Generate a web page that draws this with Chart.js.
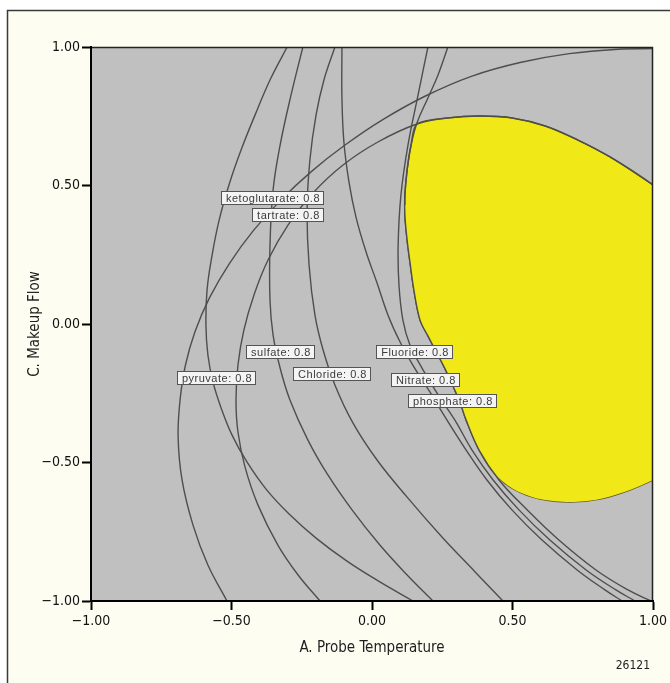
<!DOCTYPE html>
<html>
<head>
<meta charset="utf-8">
<script src="https://cdn.jsdelivr.net/npm/chart.js@4.4.1/dist/chart.umd.min.js"></script>
<style>
  html, body { margin: 0; padding: 0; background: #ffffff; }
  canvas { display: block; }
</style>
</head>
<body>
<canvas id="overlay" width="670" height="683"></canvas>
<script>
// Axis ticks (coded factor levels)
const xTicks = [-1, -0.5, 0, 0.5, 1];
const yTicks = [-1, -0.5, 0, 0.5, 1];

// 0.8 desirability contours, points as [A, C]
const ketoglutarate = [[-0.516,-1],[-0.584,-0.870],[-0.637,-0.726],[-0.676,-0.563],[-0.690,-0.408],[-0.683,-0.274],[-0.664,-0.149],[-0.630,-0.028],[-0.578,0.095],[-0.507,0.219],[-0.423,0.336],[-0.323,0.449],[-0.214,0.552],[-0.096,0.646],[0.037,0.737],[0.192,0.824],[0.356,0.895],[0.527,0.944],[0.702,0.976],[0.879,0.992],[1,0.994]];
const tartrate = [[-0.185,-1],[-0.263,-0.906],[-0.335,-0.798],[-0.406,-0.653],[-0.452,-0.516],[-0.477,-0.390],[-0.484,-0.274],[-0.477,-0.148],[-0.456,-0.022],[-0.420,0.105],[-0.370,0.231],[-0.299,0.357],[-0.210,0.473],[-0.103,0.574],[0.021,0.657],[0.160,0.722],[0.270,0.744],[0.384,0.751],[0.498,0.744],[0.616,0.715],[0.733,0.664],[0.847,0.603],[1,0.502]];
const pyruvate = [[-0.302,1],[-0.363,0.881],[-0.416,0.755],[-0.466,0.628],[-0.509,0.502],[-0.544,0.375],[-0.569,0.249],[-0.587,0.123],[-0.591,-0.004],[-0.584,-0.112],[-0.566,-0.209],[-0.537,-0.303],[-0.498,-0.401],[-0.445,-0.498],[-0.377,-0.596],[-0.295,-0.686],[-0.199,-0.773],[-0.089,-0.856],[0.028,-0.931],[0.146,-1]];
const sulfate = [[-0.246,1],[-0.288,0.827],[-0.327,0.646],[-0.352,0.484],[-0.363,0.285],[-0.363,0.087],[-0.352,-0.040],[-0.327,-0.159],[-0.292,-0.274],[-0.228,-0.419],[-0.157,-0.545],[-0.071,-0.671],[0.028,-0.798],[0.125,-0.906],[0.217,-1]];
const chloride = [[-0.132,1],[-0.171,0.881],[-0.199,0.755],[-0.221,0.592],[-0.231,0.412],[-0.224,0.213],[-0.203,0.032],[-0.174,-0.094],[-0.132,-0.220],[-0.068,-0.357],[0.018,-0.491],[0.125,-0.625],[0.249,-0.769],[0.367,-0.895],[0.466,-1]];
const nitrate = [[-0.107,1],[-0.107,0.819],[-0.100,0.657],[-0.082,0.513],[-0.057,0.386],[-0.021,0.260],[0.018,0.148],[0.057,0.032],[0.100,-0.065],[0.149,-0.155],[0.206,-0.245],[0.267,-0.347],[0.335,-0.455],[0.409,-0.563],[0.498,-0.671],[0.605,-0.780],[0.730,-0.888],[0.829,-0.960],[0.890,-1]];
const fluoride = [[0.199,1],[0.164,0.827],[0.128,0.646],[0.103,0.466],[0.093,0.285],[0.096,0.141],[0.110,0.014],[0.135,-0.076],[0.178,-0.159],[0.231,-0.249],[0.295,-0.347],[0.356,-0.455],[0.431,-0.563],[0.523,-0.671],[0.633,-0.780],[0.762,-0.888],[0.868,-0.960],[0.936,-1]];
const phosphate = [[0.270,1],[0.235,0.899],[0.199,0.816],[0.160,0.726],[0.139,0.646],[0.125,0.556],[0.117,0.466],[0.117,0.394],[0.125,0.303],[0.135,0.224],[0.149,0.123],[0.171,0.014],[0.199,-0.043],[0.231,-0.105],[0.260,-0.162],[0.288,-0.224],[0.313,-0.282],[0.335,-0.347],[0.381,-0.455],[0.452,-0.563],[0.552,-0.671],[0.665,-0.780],[0.797,-0.888],[0.911,-0.960],[0.993,-1]];

// Region where every criterion is met: upper and lower edges
const sweetTop = [[0.117,0.430],[0.117,0.466],[0.125,0.556],[0.139,0.646],[0.160,0.722],[0.270,0.744],[0.384,0.751],[0.498,0.744],[0.616,0.715],[0.733,0.664],[0.847,0.603],[1,0.502],[1.04,0.46]];
const sweetBottom = [[0.117,0.430],[0.117,0.394],[0.125,0.303],[0.135,0.224],[0.149,0.123],[0.171,0.014],[0.199,-0.043],[0.231,-0.105],[0.260,-0.162],[0.288,-0.224],[0.313,-0.282],[0.335,-0.347],[0.381,-0.455],[0.438,-0.542],[0.509,-0.599],[0.598,-0.632],[0.705,-0.643],[0.811,-0.632],[0.918,-0.599],[1,-0.563],[1.04,-0.54]];

// Contour flags: name, level and anchor position [A, C]
const flagNames = ['ketoglutarate', 'tartrate', 'sulfate', 'pyruvate', 'Chloride', 'Fluoride', 'Nitrate', 'phosphate'];
const flagLevels = [0.8, 0.8, 0.8, 0.8, 0.8, 0.8, 0.8, 0.8];
const flagA = [-0.356, -0.301, -0.329, -0.555, -0.144, 0.151, 0.189, 0.286];
const flagC = [0.455, 0.397, -0.101, -0.193, -0.177, -0.101, -0.199, -0.276];

const AXIS_FONT = '"Liberation Sans Narrow", "Arial Narrow", "DejaVu Sans Condensed", sans-serif';
const FLAG_FONT = '"Liberation Sans", Arial, sans-serif';

const toXY = pts => pts.map(([x, y]) => ({ x, y }));
const fmt = v => (v < 0 ? '\u2212' : '') + Math.abs(v).toFixed(2);

const contourStyle = {
  borderColor: '#4e4e4e',
  borderWidth: 1.4,
  pointRadius: 0,
  tension: 0.4,
  fill: false,
  order: 0
};

const curves = [ketoglutarate, tartrate, pyruvate, sulfate, chloride, nitrate, fluoride, phosphate];

const datasets = [
  { data: toXY(sweetTop), borderColor: '#5f5722', borderWidth: 1.5, backgroundColor: '#f1e817',
    pointRadius: 0, tension: 0.3, fill: '+1', order: 10 },
  { data: toXY(sweetBottom), borderColor: '#5f5722', borderWidth: 1.5, backgroundColor: '#f1e817',
    pointRadius: 0, tension: 0.3, fill: false, order: 10 }
].concat(curves.map(c => Object.assign({ data: toXY(c) }, contourStyle)));

const decor = {
  id: 'decor',
  beforeDraw(chart) {
    const { ctx, chartArea: a, width, height } = chart;
    ctx.save();
    ctx.fillStyle = '#ffffff';
    ctx.fillRect(0, 0, width, height);
    ctx.fillStyle = '#fdfdf2';
    ctx.fillRect(7, 10, width, height);
    ctx.strokeStyle = '#3a3a3a';
    ctx.lineWidth = 1.5;
    ctx.beginPath();
    ctx.moveTo(7.5, height + 2);
    ctx.lineTo(7.5, 10.5);
    ctx.lineTo(width + 2, 10.5);
    ctx.stroke();
    ctx.fillStyle = '#c0c0c0';
    ctx.fillRect(a.left, a.top, a.right - a.left, a.bottom - a.top);
    ctx.restore();
  },
  afterDatasetsDraw(chart) {
    const { ctx, chartArea: a, scales } = chart;
    ctx.save();
    // plot frame
    ctx.strokeStyle = '#222222';
    ctx.lineWidth = 1.5;
    ctx.beginPath();
    ctx.moveTo(a.left, a.top + 0.5);
    ctx.lineTo(a.right - 0.5, a.top + 0.5);
    ctx.lineTo(a.right - 0.5, a.bottom);
    ctx.stroke();
    ctx.strokeStyle = '#000000';
    ctx.lineWidth = 2;
    ctx.beginPath();
    ctx.moveTo(a.left, a.top);
    ctx.lineTo(a.left, a.bottom);
    ctx.lineTo(a.right, a.bottom);
    ctx.stroke();

    // contour flags
    ctx.font = '11px ' + FLAG_FONT;
    if ('letterSpacing' in ctx) ctx.letterSpacing = '0.5px';
    ctx.textAlign = 'center';
    ctx.textBaseline = 'middle';
    flagNames.forEach((name, i) => {
      const text = name + ': ' + flagLevels[i];
      const w = Math.round(ctx.measureText(text).width + 8);
      const h = 13;
      const px = scales.x.getPixelForValue(flagA[i]);
      const py = scales.y.getPixelForValue(flagC[i]);
      const x0 = Math.round(px - w / 2) + 0.5;
      const y0 = Math.round(py - h / 2) + 0.5;
      ctx.fillStyle = '#f4f4f4';
      ctx.fillRect(x0, y0, w, h);
      ctx.strokeStyle = '#545454';
      ctx.lineWidth = 1;
      ctx.strokeRect(x0, y0, w, h);
      ctx.fillStyle = '#3c3a3e';
      ctx.fillText(text, x0 + w / 2 + 0.5, y0 + h / 2 + 0.5);
    });
    ctx.restore();
  },
  afterDraw(chart) {
    const { ctx } = chart;
    ctx.save();
    ctx.font = '12px ' + AXIS_FONT;
    ctx.fillStyle = '#222222';
    ctx.textAlign = 'right';
    ctx.textBaseline = 'middle';
    ctx.fillText('26121', 650, 666);
    ctx.restore();
  }
};

new Chart(document.getElementById('overlay'), {
  type: 'line',
  data: { datasets },
  options: {
    responsive: false,
    devicePixelRatio: 1,
    animation: false,
    events: [],
    layout: { padding: { left: 0, top: 47, right: 17, bottom: 0 } },
    plugins: { legend: { display: false }, tooltip: { enabled: false } },
    scales: {
      x: {
        type: 'linear',
        min: -1,
        max: 1,
        afterBuildTicks: s => { s.ticks = xTicks.map(v => ({ value: v })); },
        afterFit: s => { s.height = 82; s.paddingLeft = 0; s.paddingRight = 0; },
        grid: { drawOnChartArea: false, drawTicks: true, tickLength: 9, tickWidth: 2, tickColor: '#000000' },
        border: { display: true, color: '#000000', width: 2 },
        ticks: { padding: 3, color: '#111111', maxRotation: 0, autoSkip: false,
                 font: { family: AXIS_FONT, size: 14 }, callback: v => fmt(v) },
        title: { display: true, text: 'A. Probe Temperature', color: '#1e1e1e',
                 font: { family: AXIS_FONT, size: 15 }, padding: { top: 0, bottom: 26 } }
      },
      y: {
        type: 'linear',
        min: -1,
        max: 1,
        afterBuildTicks: s => { s.ticks = yTicks.map(v => ({ value: v })); },
        afterFit: s => { s.width = 91; s.paddingTop = 0; s.paddingBottom = 0; },
        grid: { drawOnChartArea: false, drawTicks: true, tickLength: 9, tickWidth: 2, tickColor: '#000000' },
        border: { display: true, color: '#000000', width: 2 },
        ticks: { padding: 2, color: '#111111', autoSkip: false,
                 font: { family: AXIS_FONT, size: 14 }, callback: v => fmt(v) },
        title: { display: true, text: 'C. Makeup Flow', color: '#1e1e1e',
                 font: { family: AXIS_FONT, size: 15 }, padding: { top: 26, bottom: 0 } }
      }
    }
  },
  plugins: [decor]
});
</script>
</body>
</html>
